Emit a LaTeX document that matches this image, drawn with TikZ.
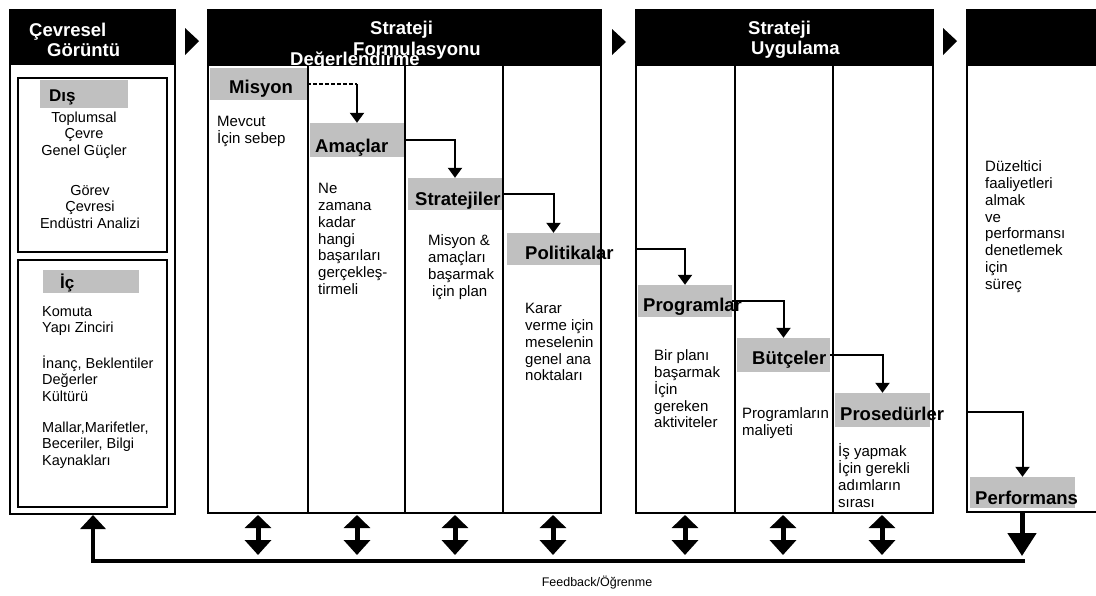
\documentclass[tikz,border=0pt]{standalone}
\usepackage{fontspec}
\setmainfont{Liberation Sans}
\usetikzlibrary{arrows.meta}
\definecolor{halftone}{RGB}{192,192,192}
\newcommand{\mystrut}{\rule{0pt}{14.5pt}}
\newcommand{\mystrutb}{\rule{0pt}{14pt}}
\setlength{\lineskiplimit}{-50pt}
\begin{document}
\begin{tikzpicture}[x=1pt,y=-1pt,
  frame/.style={line width=2.6pt},
  divider/.style={line width=2.4pt},
  hdr/.style={fill=black},
  chev/.style={fill=black},
  tag/.style={fill=halftone, draw=none, inner sep=0pt},
  tagtext/.style={font=\bfseries\fontsize{18.5}{19}\selectfont, inner sep=0pt, anchor=base west},
  ttl/.style={font=\bfseries\fontsize{18.5}{19}\selectfont, text=white, inner sep=0pt, anchor=base west},
  body/.style={font=\fontsize{15}{16.8}\selectfont, inner sep=0pt, align=left, anchor=north west},
  bodyl/.style={font=\fontsize{14.5}{16.5}\selectfont, inner sep=0pt, align=left, anchor=north west},
  bodyc/.style={font=\fontsize{14.5}{16.5}\selectfont, inner sep=0pt, align=center, anchor=north},
  link/.style={line width=2pt, -{Triangle[width=14pt,length=10pt]}},
  dbl/.style={line width=5pt, {Triangle[width=26pt,length=13pt]}-{Triangle[width=26pt,length=15pt]}},
  fat/.style={line width=5pt, -{Triangle[width=28pt,length=23pt]}},
  fb/.style={line width=4.5pt, line join=miter, -{Triangle[width=25pt,length=14pt]}},
]
\useasboundingbox (0,0) rectangle (1096,595);

% ---------- box 1: Cevresel Goruntu ----------
\fill[hdr] (10,10) rectangle (175,65);
\draw[frame] (10,10) rectangle (175,514);
\draw[frame] (18,78) rectangle (167,252);
\draw[frame] (18,260) rectangle (167,507);
\node[ttl] (t11) at (29,36.6) {Çevresel};
\node[ttl] (t12) at (47,56.6) {Görüntü};

\node[tag, minimum width=88pt, minimum height=28pt] (dis) at (84,94) {};
\node[tagtext, font=\bfseries\fontsize{17}{18}\selectfont] (disT) at (49,101) {Dış};
\node[bodyc] (disA) at (84,108.2) {\mystrutb Toplumsal\\Çevre\\Genel Güçler};
\node[bodyc] (disB) at (90,181.2) {\mystrutb Görev\\Çevresi\\Endüstri Analizi};

\node[tag, minimum width=96pt, minimum height=23pt] (ic) at (91,281.5) {};
\node[tagtext, font=\bfseries\fontsize{17}{18}\selectfont] (icT) at (60,288) {İç};
\node[bodyl] (icA) at (42,302.2) {\mystrutb Komuta\\Yapı Zinciri};
\node[bodyl] (icB) at (42,354.2) {\mystrutb İnanç, Beklentiler\\Değerler\\Kültürü};
\node[bodyl] (icC) at (42,418.2) {\mystrutb Mallar,Marifetler,\\Beceriler, Bilgi\\Kaynakları};

% ---------- chevrons ----------
\fill[chev] (185,28) -- (199,41) -- (185,55) -- cycle;
\fill[chev] (612,29) -- (626,42) -- (612,55) -- cycle;
\fill[chev] (943,28) -- (957,41) -- (943,55) -- cycle;

% ---------- box 2: Strateji Formulasyonu ----------
\fill[hdr] (208,10) rectangle (601,66);
\draw[frame] (208,10) rectangle (601,513);
\foreach \xx in {308,405,503} \draw[divider] (\xx,66) -- (\xx,513);
\node[ttl] (t21) at (370,34.6) {Strateji};
\node[ttl] (t22) at (353,55.6) {Formulasyonu};
\node[ttl] (t23) at (290,65.6) {Değerlendirme};

\node[tag, minimum width=97pt, minimum height=32pt] (misyon) at (258.5,84) {};
\node[tag, minimum width=94pt, minimum height=34pt] (amaclar) at (357,140) {};
\node[tag, minimum width=94pt, minimum height=32pt] (stratejiler) at (455,194) {};
\node[tag, minimum width=93pt, minimum height=32pt] (politikalar) at (553.5,249) {};

\node[tagtext] (misyonT) at (229,93.6) {Misyon};
\node[tagtext] (amaclarT) at (315,152.6) {Amaçlar};
\node[tagtext] (stratejilerT) at (415,205.6) {Stratejiler};
\node[tagtext] (politikalarT) at (525,259.6) {Politikalar};

\node[body] (c1) at (217,111.9) {\mystrut Mevcut\\İçin sebep};
\node[body] (c2) at (318,178.9) {\mystrut Ne\\zamana\\kadar\\hangi\\başarıları\\gerçekleş-\\tirmeli};
\node[body] (c3) at (428,230.9) {\mystrut Misyon \&\\amaçları\\başarmak\\\hspace{4pt}için plan};
\node[body] (c4) at (525,298.9) {\mystrut Karar\\verme için\\meselenin\\genel ana\\noktaları};

% ---------- box 3: Strateji Uygulama ----------
\fill[hdr] (636,10) rectangle (933,66);
\draw[frame] (636,10) rectangle (933,513);
\foreach \xx in {735,833} \draw[divider] (\xx,66) -- (\xx,513);
\node[ttl] (t31) at (748,34.6) {Strateji};
\node[ttl] (t32) at (751,54.6) {Uygulama};

\node[tag, minimum width=94pt, minimum height=32pt] (programlar) at (685,301) {};
\node[tag, minimum width=93pt, minimum height=34pt] (butceler) at (783.5,355) {};
\node[tag, minimum width=95pt, minimum height=34pt] (prosedurler) at (882.5,410) {};

\node[tagtext] (programlarT) at (643,311.6) {Programlar};
\node[tagtext] (butcelerT) at (752,364.6) {Bütçeler};
\node[tagtext] (prosedurlerT) at (840,420.6) {Prosedürler};

\node[body] (c5) at (654,345.9) {\mystrut Bir planı\\başarmak\\İçin\\gereken\\aktiviteler};
\node[body] (c6) at (742,403.9) {\mystrut Programların\\maliyeti};
\node[body] (c7) at (838,441.9) {\mystrut İş yapmak\\İçin gerekli\\adımların\\sırası};

% ---------- box 4: Performans ----------
\fill[hdr] (967,10) rectangle (1100,66);
\draw[frame] (1100,512) -- (967,512) -- (967,10) -- (1100,10);
\node[tag, minimum width=105pt, minimum height=31pt] (performans) at (1022.5,492.5) {};
\node[tagtext] (performansT) at (975,504.6) {Performans};
\node[body] (c8) at (985,156.9) {\mystrut Düzeltici\\faaliyetleri\\almak\\ve\\performansı\\denetlemek\\için\\süreç};

% ---------- connectors ----------
\coordinate (mbend) at (misyon.east -| amaclar.north);
\draw[line width=2pt, dash pattern=on 4pt off 2pt] (misyon.east) -- (mbend);
\draw[link] (mbend) -- (amaclar.north);
\draw[link] (amaclar.east) -| (stratejiler.north);
\draw[link] (stratejiler.east) -| (politikalar.north);
\coordinate (uygin) at (636,249);
\draw[link] (uygin) -| (programlar.north);
\draw[link] (programlar.east) -| (butceler.north);
\draw[link] (butceler.east) -| (prosedurler.north);
\coordinate (perfin) at (967,412);
\draw[link] (perfin) -| (performans.north);

% ---------- feedback ----------
\coordinate (fbR) at (1025,561);
\coordinate (fbL) at (93,561);
\coordinate (envbot) at (93,515);
\draw[fb] (fbR) -- (fbL) -- (envbot);
\coordinate (perfbot) at (1022,512);
\coordinate (perftip) at (1022,556);
\draw[fat] (perfbot) -- (perftip);
\foreach \xx/\nm in {258/a,357/b,455/c,553/d,685/e,783/f,882/g}{
  \coordinate (top\nm) at (\xx,515);
  \coordinate (bot\nm) at (\xx,555);
  \draw[dbl] (top\nm) -- (bot\nm);
}
\node[font=\fontsize{12.5}{14}\selectfont, inner sep=0pt] (fblabel) at (597,583) {Feedback/Öğrenme};
\end{tikzpicture}
\end{document}
